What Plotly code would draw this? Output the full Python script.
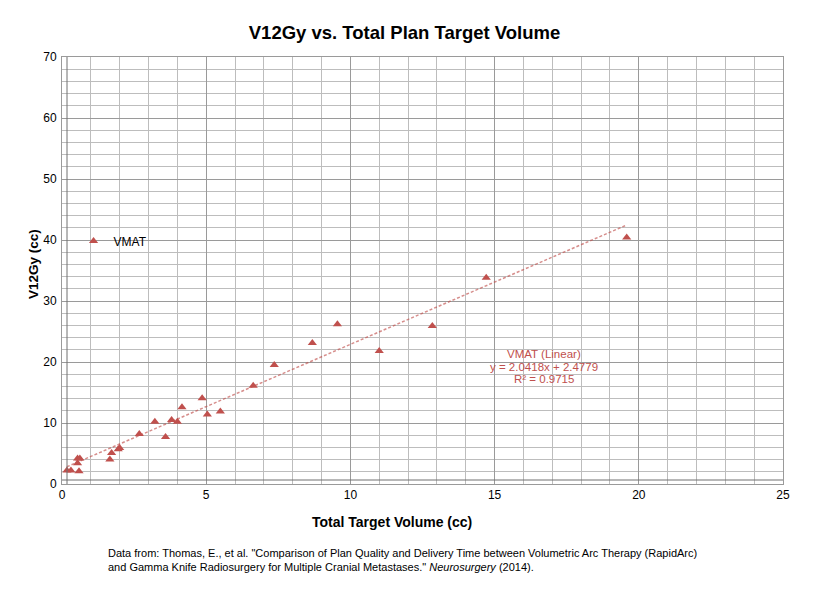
import plotly.graph_objects as go

# Data
total_target_volume = [0.17, 0.31, 0.59, 0.54, 0.54, 0.62, 1.66, 1.72, 1.95, 2.0,
                       2.68, 3.22, 3.59, 3.80, 4.0, 4.16, 4.86, 5.04, 5.49, 6.63,
                       7.36, 8.68, 9.55, 11.0, 12.84, 14.71, 19.58]
v12gy = [2.2, 2.2, 2.1, 3.4, 4.2, 4.2, 4.0, 5.1, 5.7, 5.9,
         8.2, 10.2, 7.7, 10.5, 10.2, 12.6, 14.05, 11.4, 11.9, 16.1,
         19.5, 23.1, 26.2, 21.8, 25.9, 33.8, 40.4]
series_name = "VMAT"
trend_slope = 2.0418
trend_intercept = 2.4779
trend_r2 = 0.9715

RED = "#c0504d"
MINOR = "#bdbdbd"
MAJOR = "#9a9a9a"
FONT = "Liberation Sans, Arial, sans-serif"

fig = go.Figure()

xmin, xmax = min(total_target_volume), max(total_target_volume)
fig.add_trace(go.Scatter(
    x=[xmin, xmax],
    y=[trend_slope * xmin + trend_intercept, trend_slope * xmax + trend_intercept],
    mode="lines",
    line=dict(color="rgba(192,80,77,0.65)", width=1.5, dash="3px,2px"),
    showlegend=False, hoverinfo="skip",
))
fig.add_trace(go.Scatter(
    x=total_target_volume, y=v12gy, mode="markers", name=series_name,
    marker=dict(symbol="triangle-up", size=8, color=RED, line=dict(width=0)),
))

axis_common = dict(
    showline=True, linecolor=MAJOR, linewidth=1, mirror=True,
    zeroline=False, ticks="", gridwidth=1, automargin=False, showgrid=True,
    tickfont=dict(family=FONT, size=12, color="#000"),
)
fig.update_xaxes(range=[0, 25], dtick=5, tick0=0, gridcolor=MAJOR,
                 minor=dict(dtick=1, tick0=0, showgrid=True, gridcolor=MINOR, gridwidth=1),
                 **axis_common)
fig.update_yaxes(range=[0, 70], dtick=10, tick0=0, gridcolor=MAJOR,
                 minor=dict(dtick=2, tick0=0, showgrid=True, gridcolor=MINOR, gridwidth=1),
                 ticklabelstandoff=2,
                 **axis_common)

# Offset axis lines (as in the original chart)
fig.add_shape(type="line", xref="x", xsizemode="pixel", xanchor=0, x0=5, x1=5,
              yref="paper", y0=0, y1=1, line=dict(color="#707070", width=1))
fig.add_shape(type="line", yref="y", ysizemode="pixel", yanchor=0, y0=4, y1=4,
              xref="paper", x0=0, x1=1, line=dict(color="#707070", width=1))

trend_lines = [f"{series_name} (Linear)",
               f"y = {trend_slope}x + {trend_intercept}",
               f"R² = {trend_r2}"]
for txt, yy in zip(trend_lines, [0.3044, 0.274, 0.2459]):
    fig.add_annotation(
        xref="paper", yref="paper", x=0.6685, y=yy, xanchor="center", yanchor="middle",
        text=txt, showarrow=False, borderpad=0,
        font=dict(family=FONT, size=11.5, color=RED),
    )
fig.add_annotation(
    xref="paper", yref="paper", x=0.4577, y=-0.09, xanchor="center", yanchor="middle",
    text="<b>Total Target Volume (cc)</b>", showarrow=False,
    font=dict(family=FONT, size=14, color="#000"),
)
fig.add_annotation(
    xref="paper", yref="paper", x=-0.0402, y=0.515, xanchor="center", yanchor="middle",
    text="<b>V12Gy (cc)</b>", textangle=-90, showarrow=False,
    font=dict(family=FONT, size=13.5, color="#000"),
)
fig.add_annotation(
    xref="paper", yref="paper", x=0.061, y=-0.143, xanchor="left", yanchor="top",
    text=('Data from: Thomas, E., et al. "Comparison of Plan Quality and Delivery Time between Volumetric Arc Therapy (RapidArc)<br>'
          'and Gamma Knife Radiosurgery for Multiple Cranial Metastases." <i>Neurosurgery</i> (2014).'),
    showarrow=False, align="left",
    font=dict(family=FONT, size=11, color="#000"),
)

fig.update_layout(
    template="none",
    width=806, height=581,
    margin=dict(l=54, r=31, t=49, b=105, autoexpand=False),
    paper_bgcolor="white", plot_bgcolor="white",
    title=dict(text="<b>V12Gy vs. Total Plan Target Volume</b>", x=0.492, xanchor="center",
               y=0.957, yanchor="middle", font=dict(family=FONT, size=18.5, color="#000")),
    showlegend=True,
    legend=dict(x=0.016, y=0.569, xanchor="left", yanchor="middle",
                bgcolor="rgba(0,0,0,0)", borderwidth=0, itemwidth=30,
                font=dict(family=FONT, size=12, color="#000")),
)

fig.write_html("out.html")
